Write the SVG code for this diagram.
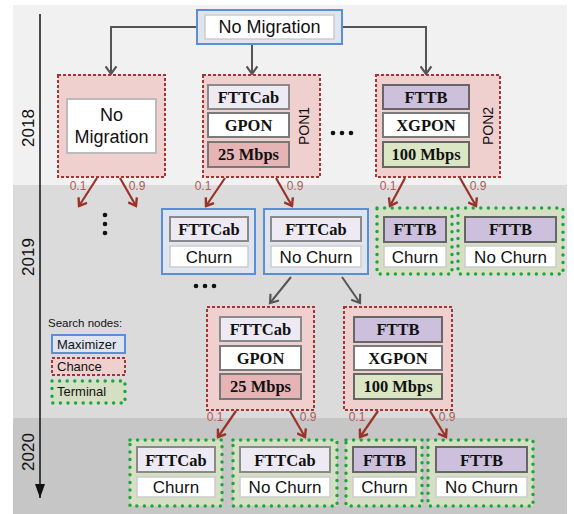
<svg xmlns="http://www.w3.org/2000/svg" width="574" height="514" viewBox="0 0 574 514">
<defs>
<style>
.max{fill:#dfe5ee;stroke:#5a8fd8;stroke-width:2}
.chance{fill:#f0cfcf;stroke:#a53434;stroke-width:2;stroke-dasharray:3 2}
.term{fill:#d5dfc3;stroke:#1ea63a;stroke-width:3.5;stroke-dasharray:0 7.6;stroke-linecap:round}
.wbox{fill:#ffffff;stroke:#cccccc;stroke-width:1.5}
.gbox{fill:#ffffff;stroke:#7a7a7a;stroke-width:2}
.cab{fill:#eeeaf3;stroke:#8a8a8a;stroke-width:2}
.fttb{fill:#ccc0dc;stroke:#666666;stroke-width:2}
.r25{fill:#e6b4b4;stroke:#777777;stroke-width:2}
.r100{fill:#dbe6c5;stroke:#666666;stroke-width:2}
.sans{font-family:"Liberation Sans",Arial,sans-serif;fill:#111}
.serif{font-family:"Liberation Serif","Times New Roman",serif;font-weight:bold;fill:#111;font-size:16.5px}
.c{text-anchor:middle}
.prob{font-family:"Liberation Sans",Arial,sans-serif;font-size:12px;fill:#b05a55;text-anchor:middle}
.garr{fill:none;stroke:#555555;stroke-width:2;marker-end:url(#gm)}
.rarr{fill:none;stroke:#9b3228;stroke-width:2.2;marker-end:url(#rm)}
</style>
<marker id="gm" viewBox="0 0 12 12" refX="10" refY="6" markerWidth="13" markerHeight="13" markerUnits="userSpaceOnUse" orient="auto">
<path d="M3,1 L10,6 L3,11" fill="none" stroke="#555555" stroke-width="2"/>
</marker>
<marker id="rm" viewBox="0 0 12 12" refX="10" refY="6" markerWidth="12" markerHeight="12" markerUnits="userSpaceOnUse" orient="auto">
<path d="M3,1 L10,6 L3,11" fill="none" stroke="#9b3228" stroke-width="2.4"/>
</marker>
<marker id="tm" viewBox="0 0 10 14" refX="5" refY="14" markerWidth="10" markerHeight="14" markerUnits="userSpaceOnUse" orient="0">
<path d="M0,0 L10,0 L5,14 Z" fill="#111"/>
</marker>
</defs>
<rect x="0" y="0" width="574" height="514" fill="#ffffff"/>
<g id="bands">
<rect x="13" y="5" width="554" height="180" fill="#f1f1f1"/>
<rect x="13" y="185" width="554" height="233" fill="#dbdbdb"/>
<rect x="13" y="418" width="554" height="96" fill="#c6c6c6"/>
<line x1="40" y1="14" x2="40" y2="498" stroke="#111" stroke-width="1.5" marker-end="url(#tm)"/>
<text class="sans c" font-size="17" transform="translate(34,128) rotate(-90)">2018</text>
<text class="sans c" font-size="17" transform="translate(34,257) rotate(-90)">2019</text>
<text class="sans c" font-size="17" transform="translate(34,452) rotate(-90)">2020</text>
</g>
<g id="connectors">
<path class="garr" d="M197,27 H111 V74"/>
<path class="garr" d="M252,44 V74"/>
<path class="garr" d="M342,27 H426 V74"/>
<path class="rarr" d="M97,178 L79,206"/>
<path class="rarr" d="M120,178 L136,206"/>
<path class="rarr" d="M225,178 L206,206"/>
<path class="rarr" d="M276,178 L292,206"/>
<path class="rarr" d="M405,178 L390,206"/>
<path class="rarr" d="M460,178 L476,206"/>
<path class="garr" d="M291,277 L270,303"/>
<path class="garr" d="M342,277 L360,303"/>
<path class="rarr" d="M236,411 L218,437"/>
<path class="rarr" d="M290,411 L305,437"/>
<path class="rarr" d="M378,411 L360,437"/>
<path class="rarr" d="M430,411 L446,437"/>
<text class="prob" x="78" y="190">0.1</text>
<text class="prob" x="137" y="190">0.9</text>
<text class="prob" x="203" y="190">0.1</text>
<text class="prob" x="295" y="190">0.9</text>
<text class="prob" x="388" y="190">0.1</text>
<text class="prob" x="478" y="190">0.9</text>
<text class="prob" x="215" y="421">0.1</text>
<text class="prob" x="308" y="421">0.9</text>
<text class="prob" x="357" y="421">0.1</text>
<text class="prob" x="447" y="421">0.9</text>
</g>
<g id="ellipses" fill="#111">
<circle cx="333" cy="133" r="2.3"/><circle cx="342" cy="133" r="2.3"/><circle cx="351" cy="133" r="2.3"/>
<circle cx="105" cy="215" r="2.3"/><circle cx="105" cy="224" r="2.3"/><circle cx="105" cy="233" r="2.3"/>
<circle cx="196" cy="286" r="2.3"/><circle cx="205" cy="286" r="2.3"/><circle cx="214" cy="286" r="2.3"/>
</g>
<g id="root">
<rect class="max" x="197" y="10" width="145" height="34"/>
<rect class="wbox" x="205" y="15" width="129" height="24"/>
<text class="sans c" font-size="18" x="269.5" y="33">No Migration</text>
</g>
<g id="chance-nomig">
<rect class="chance" x="58" y="75" width="107" height="102"/>
<rect class="gbox" style="stroke:#bbbbbb" x="67" y="99" width="89" height="54"/>
<text class="sans c" font-size="18" x="111.5" y="121">No</text>
<text class="sans c" font-size="18" x="111.5" y="143">Migration</text>
</g>
<g id="chance-pon1">
<rect class="chance" x="203" y="75" width="117" height="102"/>
<rect class="cab" x="208" y="85" width="81" height="24"/>
<text class="serif c" x="248.5" y="103">FTTCab</text>
<rect class="gbox" x="208" y="113" width="81" height="24"/>
<text class="serif c" x="248.5" y="131">GPON</text>
<rect class="r25" x="208" y="142" width="81" height="25"/>
<text class="serif c" x="248.5" y="160">25 Mbps</text>
<text class="sans c" font-size="14" transform="translate(309,126) rotate(-90)">PON1</text>
</g>
<g id="chance-pon2">
<rect class="chance" x="376" y="75" width="124" height="102"/>
<rect class="fttb" x="383" y="85" width="86" height="24"/>
<text class="serif c" x="426" y="103">FTTB</text>
<rect class="gbox" x="383" y="113" width="86" height="24"/>
<text class="serif c" x="426" y="131">XGPON</text>
<rect class="r100" x="383" y="142" width="86" height="25"/>
<text class="serif c" x="426" y="160">100 Mbps</text>
<text class="sans c" font-size="14" transform="translate(493,126) rotate(-90)">PON2</text>
</g>
<g id="max-cab-churn">
<rect class="max" x="162" y="209" width="93" height="65"/>
<rect class="cab" x="170" y="217" width="78" height="24"/>
<text class="serif c" x="209" y="235">FTTCab</text>
<rect class="wbox" x="170" y="246" width="78" height="21"/>
<text class="sans c" font-size="17" x="209" y="263">Churn</text>
</g>
<g id="max-cab-nochurn">
<rect class="max" x="264" y="209" width="104" height="65"/>
<rect class="cab" x="271" y="217" width="90" height="24"/>
<text class="serif c" x="316" y="235">FTTCab</text>
<rect class="wbox" x="271" y="246" width="90" height="21"/>
<text class="sans c" font-size="17" x="316" y="263">No Churn</text>
</g>
<g id="term-fttb-churn-2019">
<rect class="term" x="377" y="208" width="75" height="66"/>
<rect class="fttb" x="384" y="217" width="62" height="25"/>
<text class="serif c" x="415" y="235">FTTB</text>
<rect class="wbox" x="384" y="246" width="62" height="21"/>
<text class="sans c" font-size="17" x="415" y="263">Churn</text>
</g>
<g id="term-fttb-nochurn-2019">
<rect class="term" x="458" y="208" width="105" height="66"/>
<rect class="fttb" x="465" y="217" width="91" height="25"/>
<text class="serif c" x="510.5" y="235">FTTB</text>
<rect class="wbox" x="465" y="246" width="91" height="21"/>
<text class="sans c" font-size="17" x="510.5" y="263">No Churn</text>
</g>
<g id="chance-gpon-2019">
<rect class="chance" x="207" y="307" width="107" height="103"/>
<rect class="cab" x="220" y="317" width="81" height="24"/>
<text class="serif c" x="260.5" y="335">FTTCab</text>
<rect class="gbox" x="220" y="346" width="81" height="24"/>
<text class="serif c" x="260.5" y="364">GPON</text>
<rect class="r25" x="220" y="374" width="81" height="25"/>
<text class="serif c" x="260.5" y="392">25 Mbps</text>
</g>
<g id="chance-xgpon-2019">
<rect class="chance" x="344" y="307" width="108" height="103"/>
<rect class="fttb" x="354" y="317" width="88" height="25"/>
<text class="serif c" x="398" y="335">FTTB</text>
<rect class="gbox" x="354" y="346" width="88" height="24"/>
<text class="serif c" x="398" y="364">XGPON</text>
<rect class="r100" x="354" y="374" width="88" height="25"/>
<text class="serif c" x="398" y="392">100 Mbps</text>
</g>
<g id="legend">
<text class="sans" font-size="11.5" x="48" y="327">Search nodes:</text>
<rect class="max" x="52" y="335" width="73" height="18"/>
<text class="sans" font-size="13" x="57" y="349">Maximizer</text>
<rect class="chance" x="52" y="358" width="73" height="17"/>
<text class="sans" font-size="13" x="57" y="371">Chance</text>
<rect class="term" x="52" y="381" width="73" height="22"/>
<text class="sans" font-size="13" x="57" y="396">Terminal</text>
</g>
<g id="term-cab-churn-2020">
<rect class="term" x="130" y="440" width="92" height="66"/>
<rect class="cab" x="137" y="447" width="78" height="25"/>
<text class="serif c" x="176" y="466">FTTCab</text>
<rect class="wbox" x="137" y="477" width="78" height="20"/>
<text class="sans c" font-size="17" x="176" y="493">Churn</text>
</g>
<g id="term-cab-nochurn-2020">
<rect class="term" x="233" y="440" width="104" height="66"/>
<rect class="cab" x="240" y="447" width="90" height="25"/>
<text class="serif c" x="285" y="466">FTTCab</text>
<rect class="wbox" x="240" y="477" width="90" height="20"/>
<text class="sans c" font-size="17" x="285" y="493">No Churn</text>
</g>
<g id="term-fttb-churn-2020">
<rect class="term" x="346" y="440" width="76" height="66"/>
<rect class="fttb" x="353" y="447" width="63" height="25"/>
<text class="serif c" x="384.5" y="466">FTTB</text>
<rect class="wbox" x="353" y="477" width="63" height="20"/>
<text class="sans c" font-size="17" x="384.5" y="493">Churn</text>
</g>
<g id="term-fttb-nochurn-2020">
<rect class="term" x="428" y="440" width="105" height="66"/>
<rect class="fttb" x="436" y="447" width="91" height="25"/>
<text class="serif c" x="481.5" y="466">FTTB</text>
<rect class="wbox" x="436" y="477" width="91" height="20"/>
<text class="sans c" font-size="17" x="481.5" y="493">No Churn</text>
</g>
</svg>
